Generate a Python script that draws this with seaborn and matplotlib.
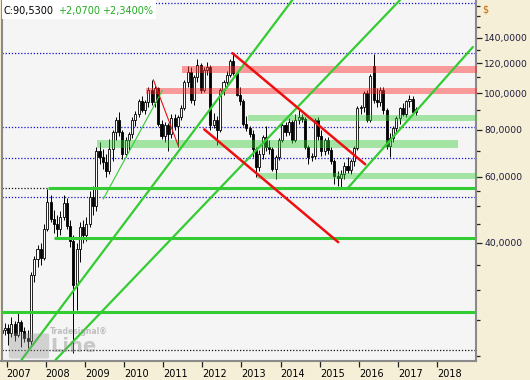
import numpy as np
import pandas as pd
import matplotlib
matplotlib.use("Agg")
import matplotlib.pyplot as plt
import seaborn as sns
from matplotlib.ticker import FixedLocator, FuncFormatter, NullFormatter
from matplotlib.patches import Rectangle, FancyBboxPatch

# ---------------- data (monthly OHLC, Nov 2006 - Jun 2017) ----------------
first_month = "2006-11"
opens = [23.0, 23.5, 23.8, 23.0, 24.3, 22.8, 24.6, 23.4, 22.4, 22.0, 32.8, 36.3, 38.6, 36.5, 43.5, 51.5,
         46.3, 45.0, 43.5, 47.0, 51.0, 44.5, 40.5, 31.0, 38.6, 44.0, 42.0, 45.0, 53.0, 50.0, 70.0, 67.5,
         65.5, 62.0, 71.0, 78.6, 85.0, 79.0, 69.0, 75.0, 78.0, 85.0, 88.0, 95.0, 90.4, 94.6, 102.0, 94.6,
         103.0, 83.0, 77.0, 82.5, 77.7, 86.0, 82.0, 86.5, 91.3, 107.0, 114.0, 96.0, 110.0, 119.0, 102.0, 115.0,
         117.0, 82.5, 85.0, 80.0, 102.0, 107.0, 112.0, 122.0, 113.0, 99.0, 95.5, 83.0, 81.0, 78.0, 71.0, 63.6,
         69.0, 76.5, 72.0, 71.0, 63.0, 67.6, 75.0, 82.5, 79.0, 84.0, 75.0, 85.0, 86.5, 85.5, 72.0, 67.5,
         68.0, 85.0, 77.0, 70.0, 75.0, 70.5, 66.0, 60.3, 59.5, 61.0, 64.0, 62.5, 66.0, 71.5, 91.3, 92.0,
         100.0, 85.0, 118.0, 96.0, 94.5, 102.0, 90.0, 72.5, 76.0, 81.0, 86.0, 91.0, 88.0, 95.0, 96.5, 89.0]
highs = [24.0, 24.5, 24.3, 25.5, 24.8, 26.0, 25.0, 24.0, 23.5, 33.5, 37.0, 39.5, 40.0, 45.0, 55.5, 53.5,
         49.0, 47.5, 48.5, 53.5, 52.5, 46.0, 42.0, 40.0, 45.5, 46.0, 47.0, 55.0, 56.5, 72.0, 74.0, 71.0,
         69.0, 75.3, 80.0, 86.5, 89.0, 80.0, 76.5, 79.0, 86.5, 89.5, 96.5, 98.0, 96.0, 104.0, 108.5, 104.5,
         104.0, 85.0, 84.0, 83.5, 88.0, 88.0, 87.5, 93.0, 108.0, 118.0, 117.0, 112.0, 123.0, 120.5, 117.0, 121.0,
         118.5, 88.5, 87.0, 103.0, 108.5, 114.5, 123.0, 127.5, 114.0, 104.0, 96.5, 87.0, 82.0, 80.0, 72.0, 70.5,
         77.5, 82.0, 75.0, 72.0, 68.5, 76.0, 83.5, 84.0, 86.0, 85.0, 88.0, 90.0, 88.0, 86.5, 73.0, 69.5,
         86.0, 86.5, 80.0, 76.0, 76.5, 72.0, 67.0, 62.0, 62.5, 65.5, 67.5, 67.0, 72.5, 92.5, 93.0, 101.0,
         102.0, 112.5, 127.0, 103.0, 103.5, 104.0, 91.0, 78.5, 82.0, 87.0, 92.0, 94.0, 96.0, 99.0, 98.0, 92.0]
lows = [22.3, 22.8, 21.5, 22.5, 22.0, 22.5, 21.2, 21.8, 21.0, 21.5, 31.5, 34.5, 35.0, 36.0, 43.0, 45.5,
        42.5, 41.0, 42.0, 46.0, 43.5, 39.0, 20.4, 26.5, 35.5, 40.0, 40.5, 44.0, 47.5, 48.5, 65.0, 63.0,
        60.0, 61.0, 66.0, 75.0, 77.0, 67.0, 67.5, 70.5, 76.0, 82.0, 86.5, 89.0, 88.0, 92.0, 93.0, 92.0,
        82.0, 75.5, 74.0, 70.0, 76.0, 80.0, 72.0, 85.0, 90.0, 104.0, 94.0, 93.0, 107.0, 100.0, 100.5, 112.0,
        80.0, 81.0, 73.0, 79.0, 99.0, 104.0, 110.0, 112.0, 98.0, 93.0, 82.0, 79.5, 76.5, 67.5, 60.0, 62.0,
        67.0, 70.0, 69.0, 62.0, 59.0, 66.5, 74.0, 77.0, 77.5, 73.5, 74.0, 83.0, 84.0, 71.0, 65.0, 66.0,
        67.0, 75.0, 68.0, 68.5, 69.0, 65.0, 57.5, 56.5, 55.6, 59.0, 61.5, 61.0, 64.0, 70.5, 88.0, 89.0,
        84.0, 84.0, 94.0, 92.0, 92.5, 88.0, 71.0, 67.5, 74.0, 79.0, 83.0, 87.0, 86.5, 92.0, 88.0, 87.5]
closes = [23.5, 23.8, 23.0, 24.3, 22.8, 24.6, 23.4, 22.4, 22.0, 32.8, 36.3, 38.6, 36.5, 43.5, 51.5, 46.3,
          45.0, 43.5, 47.0, 51.0, 44.5, 40.5, 31.0, 38.6, 44.0, 42.0, 45.0, 53.0, 50.0, 70.0, 67.5, 65.5,
          62.0, 71.0, 78.6, 85.0, 79.0, 69.0, 75.0, 78.0, 85.0, 88.0, 95.0, 90.4, 94.6, 102.0, 94.6, 103.0,
          83.0, 77.0, 82.5, 77.7, 86.0, 82.0, 86.5, 91.3, 107.0, 114.0, 96.0, 110.0, 119.0, 102.0, 115.0, 117.0,
          82.5, 85.0, 80.0, 102.0, 107.0, 112.0, 122.0, 113.0, 99.0, 95.5, 83.0, 81.0, 78.0, 71.0, 63.6, 69.0,
          76.5, 72.0, 71.0, 63.0, 67.6, 75.0, 82.5, 79.0, 84.0, 75.0, 85.0, 86.5, 85.5, 72.0, 67.5, 68.0,
          85.0, 77.0, 70.0, 75.0, 70.5, 66.0, 60.3, 59.5, 61.0, 64.0, 62.5, 66.0, 71.5, 91.3, 92.0, 100.0,
          85.0, 111.0, 96.0, 94.5, 102.0, 90.0, 72.5, 76.0, 81.0, 86.0, 91.0, 88.0, 95.0, 96.5, 89.0, 90.53]

last_close = 90.53
change_abs = 2.07
change_pct = 2.34

year_ticks = list(range(2007, 2019))
y_major = [40, 60, 80, 100, 120, 140]
y_minor = [20, 25, 30, 35, 45, 50, 55, 70, 90, 110, 130, 150, 160, 170]

# drawn analysis objects (dates in decimal years, prices in $)
green_trend_x = [[2007.38, 2014.30], [2008.25, 2017.05], [2015.72, 2018.91]]
green_trend_y = [[19.56, 176.6], [19.56, 176.6], [56.0, 132.5]]
thin_green_x = [2009.47, 2010.98]
thin_green_y = [52.3, 101.6]
red_trend_x = [[2012.77, 2016.16], [2012.05, 2015.47]]
red_trend_y = [[127.6, 64.7], [80.1, 40.2]]
thin_red_x = [2010.75, 2011.39]
thin_red_y = [108.5, 72.3]
support_levels = [56.0, 41.2, 26.2]
support_starts = [2008.07, 2008.22, 2006.8]
red_bands = [(113.0, 118.0, 2011.49, 2019.1), (99.5, 103.0, 2010.57, 2019.1)]
green_bands = [(84.3, 87.5, 2013.17, 2019.1), (71.5, 75.0, 2009.32, 2018.53), (59.1, 61.3, 2013.40, 2019.1)]
blue_dotted = [173.3, 127.7, 81.3, 67.2, 52.9]
black_dotted = [56.0, 20.8]

# ---------------- figure ----------------
sns.set_theme(style="white")
plt.rcParams["font.family"] = ["DejaVu Sans"]

W, H = 530, 380
fig = plt.figure(figsize=(W / 100, H / 100), dpi=100)
fig.patch.set_facecolor("#F6EFD7")
ax = fig.add_axes([1.5 / W, 19 / H, 474.5 / W, 361 / H])
ax.set_facecolor("#F5F5F5")

df = pd.DataFrame({"open": opens, "high": highs, "low": lows, "close": closes})
dates = pd.date_range(first_month, periods=len(df), freq="MS")
df["x"] = dates.year + (dates.month - 1 + 0.5) / 12.0
up = df["close"] >= df["open"]

ax.set_yscale("log")
xmin, xmax = 2006.872, 2018.99
ymin, ymax = 19.44, 176.6

# dotted reference lines
for lv in blue_dotted:
    ax.axhline(lv, color="#1010CC", lw=0.9, ls=(0, (1, 1.5)), zorder=1)
for lv in black_dotted:
    ax.axhline(lv, color="#111111", lw=0.9, ls=(0, (1, 1.5)), zorder=1)

# candles
ax.vlines(df["x"], df["low"], df["high"], color="black", lw=0.7, zorder=2)
bw = 0.052
body_lo = np.minimum(df["open"], df["close"])
body_h = np.abs(df["close"] - df["open"]) + 0.001
ax.bar(df["x"][up], body_h[up], bottom=body_lo[up], width=bw, color="white",
       edgecolor="black", linewidth=0.6, zorder=2.5)
ax.bar(df["x"][~up], body_h[~up], bottom=body_lo[~up], width=bw, color="black",
       edgecolor="black", linewidth=0.6, zorder=2.5)

# bands
for lo, hi, x0, x1 in red_bands:
    ax.fill_between([x0, x1], lo, hi, color="#FF2A2A", alpha=0.45, lw=0, zorder=3)
for lo, hi, x0, x1 in green_bands:
    ax.fill_between([x0, x1], lo, hi, color="#33CC33", alpha=0.42, lw=0, zorder=3)

# horizontal support lines
for lv, x0 in zip(support_levels, support_starts):
    ax.plot([x0, 2019.1], [lv, lv], color="#33CC33", lw=2.2, zorder=4, solid_capstyle="butt")

# trend lines
for xs, ys in zip(green_trend_x, green_trend_y):
    sns.lineplot(x=xs, y=ys, ax=ax, color="#33CC33", lw=1.6, zorder=4)
sns.lineplot(x=thin_green_x, y=thin_green_y, ax=ax, color="#33CC33", lw=0.8, zorder=4)
for xs, ys in zip(red_trend_x, red_trend_y):
    sns.lineplot(x=xs, y=ys, ax=ax, color="#EE1010", lw=1.8, zorder=4)
sns.lineplot(x=thin_red_x, y=thin_red_y, ax=ax, color="#EE1010", lw=0.8, zorder=4)

ax.set_xlim(xmin, xmax)
ax.set_ylim(ymin, ymax)

# axes styling
ax.spines["top"].set_visible(False)
for s in ["left", "right", "bottom"]:
    ax.spines[s].set_visible(True)
    ax.spines[s].set_color("#8A8A8A")
    ax.spines[s].set_linewidth(1.5)

ax.yaxis.tick_right()
ax.yaxis.set_major_locator(FixedLocator(y_major))
ax.yaxis.set_minor_locator(FixedLocator(y_minor))
ax.yaxis.set_major_formatter(FuncFormatter(lambda v, p: f"{v:.4f}".replace(".", ",")))
ax.yaxis.set_minor_formatter(NullFormatter())
ax.tick_params(axis="y", which="major", direction="out", length=4, width=0.9, color="#222222",
               pad=2, labelsize=6.6, labelcolor="#1A1A3A", left=False, right=True)
ax.tick_params(axis="y", which="minor", direction="out", length=3, width=0.9, color="#222222",
               left=False, right=True)

ax.xaxis.set_major_locator(FixedLocator(year_ticks))
ax.xaxis.set_minor_locator(FixedLocator([]))
ax.set_xticklabels([str(y) for y in year_ticks])
ax.tick_params(axis="x", which="major", direction="out", length=4, width=0.9, color="#222222",
               pad=2, labelsize=7, labelcolor="black", bottom=True)
for lab in ax.get_xticklabels():
    lab.set_horizontalalignment("left")
ax.set_xlabel("")
ax.set_ylabel("")
ax.grid(False)

# currency label
fig.text(482 / W, 1 - 10 / H, "$", color="#C86400", fontsize=7, ha="left", va="center")

# top-left quote box
fig.patches.append(Rectangle((1.5 / W, 1 - 19 / H), 154 / W, 19 / H, transform=fig.transFigure,
                             facecolor="white", edgecolor="none", zorder=5))
fig.text(3 / W, 1 - 11 / H, f"C:{last_close:.4f}".replace(".", ","), color="black", fontsize=7,
         ha="left", va="center", zorder=6)
fig.text(58 / W, 1 - 11 / H, f"+{change_abs:.4f}".replace(".", ","), color="#22AA22", fontsize=7,
         ha="left", va="center", zorder=6)
fig.text(102 / W, 1 - 11 / H, f"+{change_pct:.4f}%".replace(".", ","), color="#22AA22", fontsize=7,
         ha="left", va="center", zorder=6)

# watermark
fig.patches.append(FancyBboxPatch((11 / W, 1 - 357 / H), 36 / W, 22 / H, transform=fig.transFigure,
                                  boxstyle="round,pad=0.004", facecolor="#909090", edgecolor="none",
                                  alpha=0.35, zorder=5))
fig.text(50 / W, 1 - 331 / H, "Tradesignal®", color="#9A9A9A", fontsize=5.5, fontweight="bold",
         ha="left", va="center", alpha=0.6, zorder=6)
fig.text(50 / W, 1 - 347 / H, "Line", color="#909090", fontsize=14, fontweight="bold",
         ha="left", va="center", alpha=0.45, zorder=6)

fig.savefig("out.png", dpi=100, facecolor=fig.get_facecolor())
